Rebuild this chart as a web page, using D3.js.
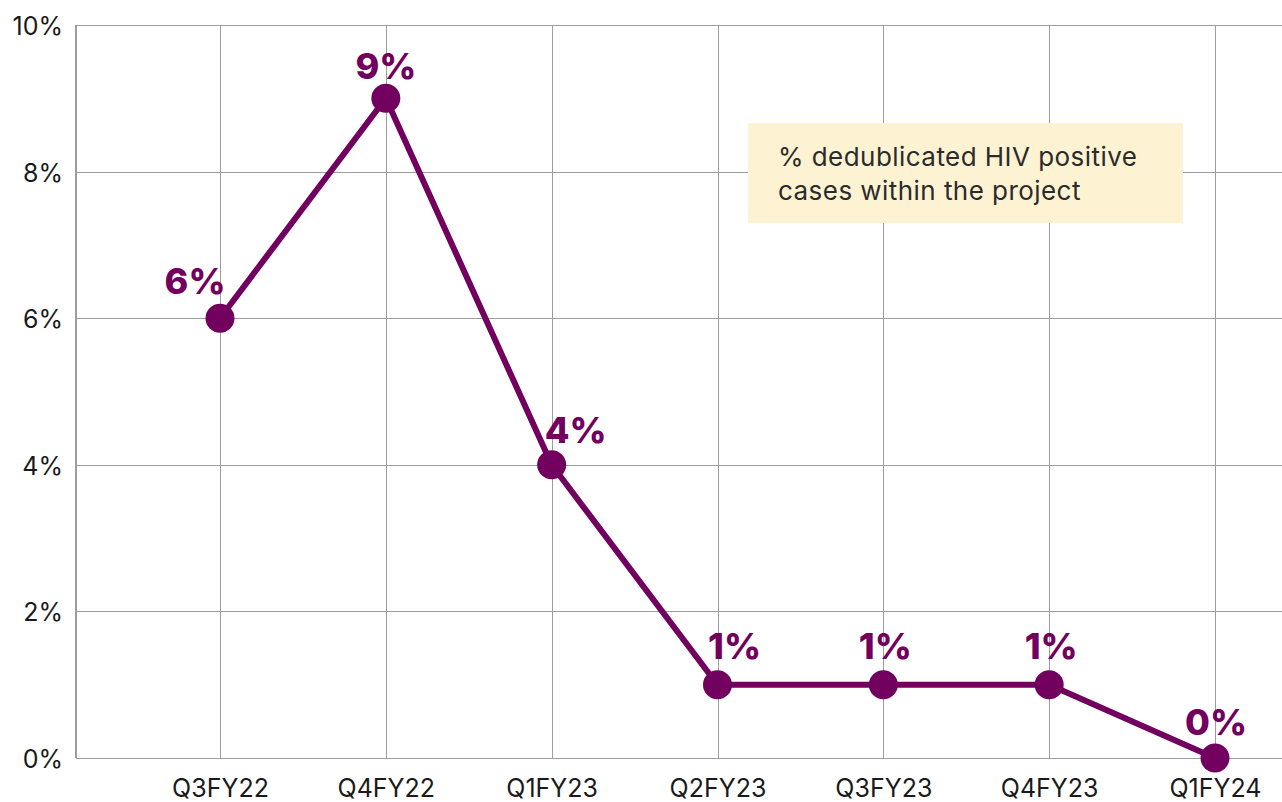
<!DOCTYPE html>
<meta charset="utf-8">
<style>
body { margin: 0; background: #fff; }
.grid line { stroke: #9c9c9c; stroke-width: 1.5px; shape-rendering: crispEdges; }
.axis text { font-family: Inter, sans-serif; font-size: 25px; fill: #1a1a1a; }
.axis path, .axis line { display: none; }
.label { font-family: Inter, sans-serif; font-weight: 800; font-size: 36px; fill: #72005e; }
.legend text { font-family: Inter, sans-serif; font-size: 26px; letter-spacing: 0.45px; fill: #2b2b2b; }
</style>
<body>
<svg width="1282" height="802"></svg>
<script src="https://d3js.org/d3.v7.min.js"></script>
<script>
var quarters = ["Q3FY22", "Q4FY22", "Q1FY23", "Q2FY23", "Q3FY23", "Q4FY23", "Q1FY24"];
var share = [6, 9, 4, 1, 1, 1, 0];
var yTicks = [0, 2, 4, 6, 8, 10];
var legendLines = ["% dedublicated HIV positive", "cases within the project"];

// label nudges (px) so they sit like the original
var labelDx = [-25, 0, 24, 17, 2, 2, 1];
var labelDy = [-24, -19, -22, -26, -26, -26, -23];

var svg = d3.select("svg"),
    plotLeft = 76, plotTop = 25, plotBottom = 758, plotRight = 1282;

var x = d3.scalePoint()
    .domain(quarters)
    .range([220, 1215]);

var y = d3.scaleLinear()
    .domain([0, 10])
    .range([plotBottom, plotTop]);

var grid = svg.append("g").attr("class", "grid");

grid.selectAll(".h")
    .data(yTicks)
  .enter().append("line")
    .attr("x1", plotLeft)
    .attr("x2", plotRight)
    .attr("y1", function(d) { return Math.round(y(d)) + 0.5; })
    .attr("y2", function(d) { return Math.round(y(d)) + 0.5; });

grid.selectAll(".v")
    .data([null].concat(quarters))
  .enter().append("line")
    .attr("x1", function(d) { return d === null ? plotLeft : Math.round(x(d)) + 0.5; })
    .attr("x2", function(d) { return d === null ? plotLeft : Math.round(x(d)) + 0.5; })
    .attr("y1", plotTop)
    .attr("y2", plotBottom);

svg.append("g")
    .attr("class", "axis")
    .attr("transform", "translate(" + (plotLeft - 13) + ",0)")
    .call(d3.axisLeft(y).tickValues(yTicks).tickSize(0).tickPadding(0)
      .tickFormat(function(d) { return d + "%"; }))
    .selectAll("text").attr("dy", "0.38em");

svg.append("g")
    .attr("class", "axis")
    .attr("transform", "translate(0," + plotBottom + ")")
    .call(d3.axisBottom(x).tickSize(0).tickPadding(21));

// legend box
var legend = svg.append("g").attr("class", "legend");
legend.append("rect")
    .attr("x", 748).attr("y", 123)
    .attr("width", 435).attr("height", 100)
    .attr("fill", "#fdf3d2");
legend.selectAll("text")
    .data(legendLines)
  .enter().append("text")
    .attr("x", 778)
    .attr("y", function(d, i) { return 166 + i * 34; })
    .text(function(d) { return d; });

var pts = quarters.map(function(q, i) { return {q: q, v: share[i], i: i}; });

svg.append("path")
    .datum(pts)
    .attr("fill", "none")
    .attr("stroke", "#72005e")
    .attr("stroke-width", 6)
    .attr("stroke-linejoin", "round")
    .attr("d", d3.line()
      .x(function(d) { return x(d.q); })
      .y(function(d) { return y(d.v); }));

svg.selectAll(".dot")
    .data(pts)
  .enter().append("circle")
    .attr("cx", function(d) { return x(d.q); })
    .attr("cy", function(d) { return y(d.v); })
    .attr("r", 14.5)
    .attr("fill", "#72005e");

svg.selectAll(".label")
    .data(pts)
  .enter().append("text")
    .attr("class", "label")
    .attr("text-anchor", "middle")
    .attr("x", function(d) { return x(d.q) + labelDx[d.i]; })
    .attr("y", function(d) { return y(d.v) + labelDy[d.i]; })
    .text(function(d) { return d.v + "%"; });
</script>
</body>
</html>
